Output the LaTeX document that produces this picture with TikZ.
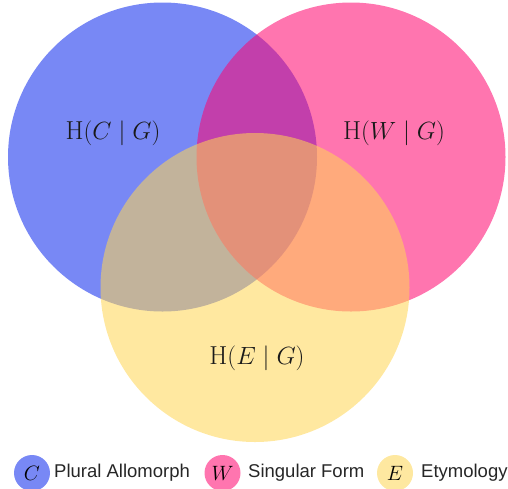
\documentclass[tikz,border=0pt]{standalone}
\usepackage{fontspec}
\setsansfont{Liberation Sans}
\definecolor{cblue}{RGB}{10,39,237}
\definecolor{cpink}{RGB}{255,4,110}
\definecolor{cyell}{RGB}{255,213,82}
\definecolor{lblue}{RGB}{120,136,245}
\definecolor{lpink}{RGB}{255,117,175}
\definecolor{lyell}{RGB}{254,232,160}
\begin{document}
\begin{tikzpicture}[x=1pt,y=-1pt,
  setc/.style={circle, inner sep=0pt, minimum size=309pt, fill opacity=0.55, draw=none},
  setlabel/.style={font=\fontsize{26}{30}\selectfont, text=black!90},
  legc/.style={circle, inner sep=0pt, minimum size=36pt, font=\fontsize{20}{24}\selectfont},
  legtext/.style={anchor=west, inner sep=0pt, font=\sffamily\fontsize{18.5}{22}\selectfont, text=black!85}]
\useasboundingbox (0,0) rectangle (508,488);
\node[setc, fill=cblue] (C) at (162.5,157) {};
\node[setc, fill=cpink] (W) at (351,157) {};
\node[setc, fill=cyell] (E) at (255,287.5) {};
\node[setlabel] (lC) at (113,133) {$\mathrm{H}(C\mid G)$};
\node[setlabel] (lW) at (394,133) {$\mathrm{H}(W\mid G)$};
\node[setlabel] (lE) at (257,358) {$\mathrm{H}(E\mid G)$};
\node[legc, fill=lblue] (kC) at (32,473) {$C$};
\node[legtext] (tC) at (54,473) {Plural Allomorph};
\node[legc, fill=lpink] (kW) at (222.5,473) {$W$};
\node[legtext] (tW) at (248,473) {Singular Form};
\node[legc, fill=lyell] (kE) at (395,473) {$E$};
\node[legtext] (tE) at (421,473) {Etymology};
\end{tikzpicture}
\end{document}
